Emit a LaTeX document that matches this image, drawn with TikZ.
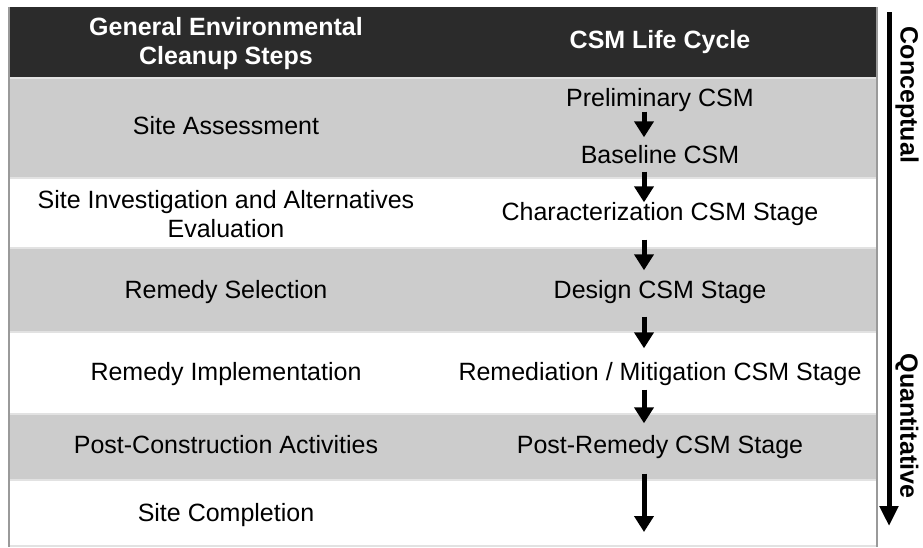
\documentclass[tikz,border=0pt]{standalone}
\usepackage{fontspec}
\setmainfont{Liberation Sans}
\usepackage{xcolor}
\usepackage{tikz}
\usetikzlibrary{arrows.meta}
\definecolor{headgray}{HTML}{2B2B2B}
\definecolor{rowgray}{HTML}{CCCCCC}
\definecolor{rulegray}{HTML}{E2E2E2}
\definecolor{framegray}{HTML}{9A9A9A}
\tikzset{
  cell/.style={inner sep=0pt,text height=18pt,text depth=5pt,font=\fontsize{25}{29}\selectfont},
  wrapcell/.style={inner sep=0pt,align=center,font=\fontsize{25}{29}\selectfont},
  headcell/.style={wrapcell,text=white,font=\fontsize{25}{29}\selectfont\bfseries},
  flow/.style={line width=5pt,-{Triangle[width=19pt,length=16pt]}},
  sidelabel/.style={inner sep=0pt,rotate=-90,font=\fontsize{25}{29}\selectfont\bfseries}
}

\begin{document}
\begin{tikzpicture}[x=1pt,y=-1pt]
                    \useasboundingbox (0,0) rectangle (923,547);
                    \fill[headgray] (9,7) rectangle (877,77);
                    \fill[rowgray] (9,78) rectangle (877,178);
                    \fill[rowgray] (9,248) rectangle (877,332);
                    \fill[rowgray] (9,414) rectangle (877,480);
                    \foreach \y in {78,178,248,332,414,480,546}
                        \draw[rulegray,line width=1.5pt] (9,\y) -- (877,\y);
                    \draw[framegray,line width=2pt] (9,7) -- (9,547);
                    \draw[framegray,line width=1.5pt] (877,7) -- (877,547);

                    \node[headcell] (stepshead) at (226,44) {General Environmental\\Cleanup Steps};
                    \node[headcell] (cyclehead) at (660,42) {CSM Life Cycle};

                    \node[cell] (assess) at (226,128) {Site Assessment};
                    \node[wrapcell] (invest) at (226,214) {Site Investigation and Alternatives\\Evaluation};
                    \node[cell] (select) at (226,292) {Remedy Selection};
                    \node[cell] (implement) at (226,374) {Remedy Implementation};
                    \node[cell] (postcon) at (226,447) {Post-Construction Activities};
                    \node[cell] (complete) at (226,515) {Site Completion};

                    \node[cell] (prelim) at (660,100) {Preliminary CSM};
                    \node[cell] (base) at (660,157) {Baseline CSM};
                    \node[cell] (charac) at (660,214) {Characterization CSM Stage};
                    \node[cell] (design) at (660,292) {Design CSM Stage};
                    \node[cell] (remed) at (660,374) {Remediation / Mitigation CSM Stage};
                    \node[cell] (postrem) at (660,447) {Post-Remedy CSM Stage};
                    \coordinate (axis) at (644,0);
                    \coordinate (finish) at (644,532);

                    \draw[flow,shorten >=8pt] (prelim.south -| axis) -- (base.north -| axis);
                    \draw[flow,shorten <=3pt] (base.south -| axis) -- (charac.north -| axis);
                    \draw[flow,shorten <=14pt,shorten >=10pt] (charac.south -| axis) -- (design.north -| axis);
                    \draw[flow,shorten <=13pt,shorten >=14pt] (design.south -| axis) -- (remed.north -| axis);
                    \draw[flow,shorten <=4pt,shorten >=12pt] (remed.south -| axis) -- (postrem.north -| axis);
                    \draw[flow,shorten <=15pt] (postrem.south -| axis) -- (finish);

                    \coordinate (bartop) at (889,12);
                    \coordinate (barend) at (889,526);
                    \draw[line width=5pt,-{Triangle[width=18pt,length=20pt]}] (bartop) -- (barend);
                    \node[sidelabel] (concept) at (907,95) {Conceptual};
                    \node[sidelabel] (quant) at (907,426) {Quantitative};

                \end{tikzpicture}
\end{document}
